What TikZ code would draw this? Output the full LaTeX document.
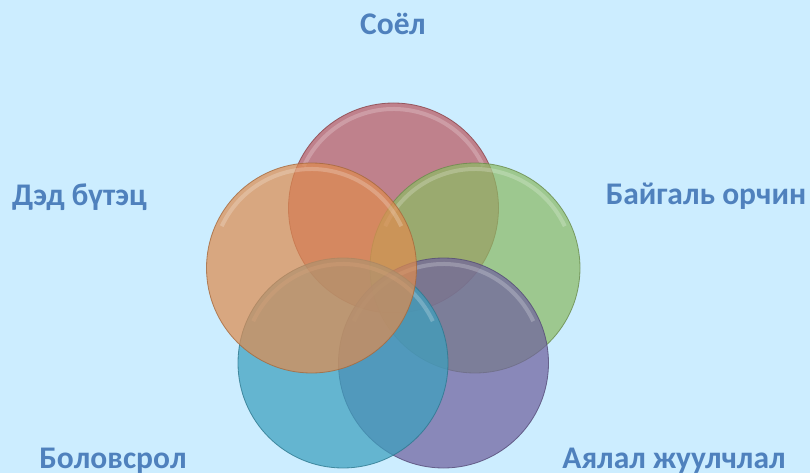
\documentclass[tikz,border=0pt]{standalone}
\usepackage{fontspec}
\setmainfont{Carlito}
\definecolor{bgc}{RGB}{204,237,255}
\definecolor{txt}{RGB}{79,129,189}
\definecolor{cred}{RGB}{186,88,96}
\definecolor{cgreen}{RGB}{140,186,100}
\definecolor{cpurple}{RGB}{112,98,158}
\definecolor{cblue}{RGB}{60,160,190}
\definecolor{corange}{RGB}{222,140,80}
\tikzset{
  ring/.style={fill=#1, fill opacity=0.72, draw=#1!75!black, draw opacity=0.8, line width=0.8pt},
  gloss/.style={draw=white, draw opacity=0.22, line width=4pt},
  lbl/.style={text=txt, font=\fontsize{31.5}{34}\selectfont\bfseries, inner sep=0pt, anchor=base}
}
\begin{document}
\begin{tikzpicture}[x=1pt,y=-1pt]
\useasboundingbox (0,0) rectangle (810,473);
\fill[bgc] (0,0) rectangle (810,473);
\def\R{105}
\coordinate (cr) at (393.5,208);
\coordinate (cg) at (475,268);
\coordinate (cp) at (443.5,363);
\coordinate (cb) at (343,363);
\coordinate (co) at (311.5,268);
\foreach \c/\col in {cr/cred,cg/cgreen,cp/cpurple,cb/cblue,co/corange}{
  \path[ring=\col] (\c) circle[radius=\R];
  \draw[gloss] (\c) ++(-25:99) arc[start angle=-25, end angle=-155, radius=99];
}
\node[lbl] (l1) at (393,35) {Соёл};
\node[lbl] (l2) at (706,204) {Байгаль орчин};
\node[lbl] (l3) at (79.5,205) {Дэд бүтэц};
\node[lbl] (l4) at (113,468) {Боловсрол};
\node[lbl] (l5) at (674,468) {Аялал жуулчлал};
\end{tikzpicture}
\end{document}
